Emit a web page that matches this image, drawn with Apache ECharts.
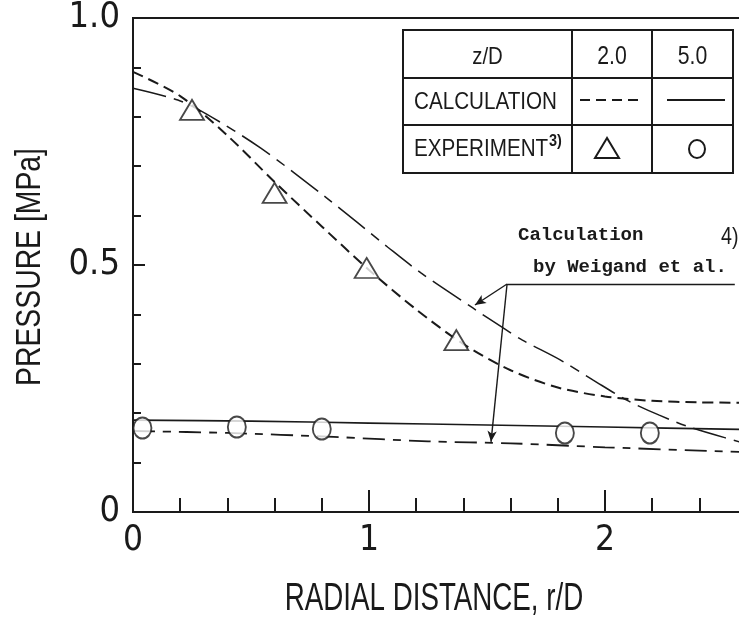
<!DOCTYPE html>
<html>
<head>
<meta charset="utf-8">
<script src="https://cdn.jsdelivr.net/npm/echarts@6/dist/echarts.min.js"></script>
<style>
  html, body { margin: 0; padding: 0; background: #fff; }
  #chart { width: 739px; height: 620px; }
</style>
</head>
<body>
<div id="chart"></div>
<script>
// Radial pressure distribution, r/D in x, pressure in MPa in y.

// Calculation, z/D = 2.0 (dashed)
const calc2X = [0, 0.2, 0.4, 0.6, 0.8, 1.0, 1.2, 1.4, 1.6, 1.8, 2.0, 2.2, 2.4, 2.6];
const calc2Y = [0.891, 0.842, 0.762, 0.668, 0.578, 0.490, 0.410, 0.340, 0.287, 0.252, 0.234, 0.225, 0.222, 0.221];

// Calculation, z/D = 5.0 (solid)
const calc5X = [0, 0.5, 1.0, 1.5, 2.0, 2.6];
const calc5Y = [0.186, 0.184, 0.180, 0.176, 0.172, 0.167];

// Calculation by Weigand et al., z/D = 2.0 (dash-dot)
const weig2X = [0, 0.19, 0.31, 0.54, 0.82, 1.08, 1.22, 1.44, 1.57, 1.65, 1.81, 1.95, 2.09, 2.23, 2.37, 2.57, 2.6];
const weig2Y = [0.858, 0.834, 0.806, 0.737, 0.636, 0.536, 0.484, 0.413, 0.372, 0.348, 0.308, 0.267, 0.227, 0.196, 0.170, 0.142, 0.138];

// Calculation by Weigand et al., z/D = 5.0 (dash-dot)
const weig5X = [0, 0.4, 0.85, 1.25, 1.6, 2.0, 2.6];
const weig5Y = [0.164, 0.160, 0.152, 0.143, 0.139, 0.131, 0.121];

// Experiment, z/D = 2.0 (triangles)
const exp2X = [0.25, 0.60, 0.99, 1.37];
const exp2Y = [0.814, 0.646, 0.494, 0.348];

// Experiment, z/D = 5.0 (circles)
const exp5X = [0.04, 0.44, 0.80, 1.83, 2.19];
const exp5Y = [0.170, 0.172, 0.168, 0.160, 0.160];

// Leader lines of the "Calculation by Weigand et al." note (data coordinates)
const noteAnchor = [1.585, 0.4615];
const noteLineEnd = [2.55, 0.4615];
const noteArrowTips = [[1.449, 0.419], [1.517, 0.142]];

// Axis tick labels
const xTickLabels = { 0: '0', 1: '1', 2: '2' };
const yTickLabels = { 0: '0', 0.5: '0.5', 1: '1.0' };

const pairs = (xs, ys) => xs.map((x, i) => [x, ys[i]]);

const INK = '#1a1a1a';
const SANS = '"Liberation Sans", Arial, sans-serif';
const COND = '"DejaVu Sans Condensed", "DejaVu Sans", sans-serif';
const MONO = '"Liberation Mono", "DejaVu Sans Mono", monospace';

const chart = echarts.init(document.getElementById('chart'), null, { renderer: 'canvas' });

// Plot area: 236 px per unit of r/D, 494 px per MPa; it runs past the right edge.
const GRID = { left: 133, top: 18, width: 708, height: 494 };

const option = {
  animation: false,
  backgroundColor: '#ffffff',
  grid: Object.assign({
    show: true, borderColor: INK, borderWidth: 2, backgroundColor: 'transparent',
    outerBoundsMode: 'none', containLabel: false
  }, GRID),
  xAxis: {
    type: 'value', min: 0, max: 3, interval: 1,
    axisLine: { lineStyle: { color: INK, width: 2 } },
    axisTick: { inside: true, length: 22, lineStyle: { color: INK, width: 2 } },
    minorTick: { show: true, splitNumber: 5, length: 14, lineStyle: { color: INK, width: 2 } },
    splitLine: { show: false },
    axisLabel: {
      margin: 11, fontFamily: COND, fontSize: 35, color: INK,
      formatter: v => (xTickLabels[v] !== undefined ? xTickLabels[v] : '')
    }
  },
  yAxis: {
    type: 'value', min: 0, max: 1, interval: 0.5,
    axisLine: { lineStyle: { color: INK, width: 2 } },
    axisTick: { inside: true, length: 12, lineStyle: { color: INK, width: 2 } },
    minorTick: { show: true, splitNumber: 5, length: 8, lineStyle: { color: INK, width: 2 } },
    splitLine: { show: false },
    axisLabel: {
      margin: 13, fontFamily: COND, fontSize: 36, color: INK,
      formatter: v => (yTickLabels[v] !== undefined ? yTickLabels[v] : '')
    }
  },
  series: [
    {
      name: 'Calculation z/D=2.0', type: 'line', data: pairs(calc2X, calc2Y),
      smooth: 0.3, showSymbol: false, clip: true,
      lineStyle: { color: INK, width: 2, type: [11, 6] }
    },
    {
      name: 'Calculation z/D=5.0', type: 'line', data: pairs(calc5X, calc5Y),
      smooth: 0.3, showSymbol: false, clip: true,
      lineStyle: { color: INK, width: 1.6, type: 'solid' }
    },
    {
      name: 'Weigand z/D=2.0', type: 'line', data: pairs(weig2X, weig2Y),
      smooth: 0.3, showSymbol: false, clip: true,
      lineStyle: { color: INK, width: 1.5, type: [34, 8, 10, 8] },
      markLine: {
        silent: true, animation: false,
        symbol: ['none', 'arrow'], symbolSize: [7, 11],
        label: { show: false },
        lineStyle: { color: INK, width: 1.4, type: 'solid' },
        data: [
          [{ coord: noteAnchor, symbol: 'none' }, { coord: noteLineEnd, symbol: 'none' }],
          [{ coord: noteAnchor }, { coord: noteArrowTips[0] }],
          [{ coord: noteAnchor }, { coord: noteArrowTips[1] }]
        ]
      }
    },
    {
      name: 'Weigand z/D=5.0', type: 'line', data: pairs(weig5X, weig5Y),
      smooth: 0.3, showSymbol: false, clip: true,
      lineStyle: { color: INK, width: 1.8, type: [22, 8, 8, 8] }
    },
    {
      name: 'Experiment z/D=2.0', type: 'scatter', data: pairs(exp2X, exp2Y),
      symbol: 'triangle', symbolSize: [24, 20], z: 5,
      itemStyle: { color: '#fff', borderColor: INK, borderWidth: 1.8 }
    },
    {
      name: 'Experiment z/D=5.0', type: 'scatter', data: pairs(exp5X, exp5Y),
      symbol: 'circle', symbolSize: [18, 21], z: 5,
      itemStyle: { color: '#fff', borderColor: INK, borderWidth: 2 }
    }
  ]
};

chart.setOption(option);

// Key table, axis titles (condensed lettering) and the note text.
const T = { l: 403, r: 733, t: 30, b: 173, c1: 572, c2: 652, r1: 78, r2: 125 };
const line = (x1, y1, x2, y2, w, dash) => ({
  type: 'line', shape: { x1, y1, x2, y2 },
  style: { stroke: INK, lineWidth: w, lineDash: dash || null }, z: 10
});
const text = (x, y, s, size, font, align, opts) => Object.assign({
  type: 'text', x, y,
  style: {
    text: s, fontSize: size, fontFamily: font, fill: INK,
    align: align || 'center', verticalAlign: 'middle',
    fontWeight: (opts && opts.weight) || 'normal'
  }, z: 10
}, opts && opts.scaleX ? { scaleX: opts.scaleX } : {},
   opts && opts.rotation ? { rotation: opts.rotation } : {});

chart.setOption({
  graphic: [
    { type: 'rect', shape: { x: T.l, y: T.t, width: T.r - T.l, height: T.b - T.t },
      style: { fill: '#fff', stroke: INK, lineWidth: 2 }, z: 9 },
    line(T.c1, T.t, T.c1, T.b, 2),
    line(T.c2, T.t, T.c2, T.b, 2),
    line(T.l, T.r1, T.r, T.r1, 2),
    line(T.l, T.r2, T.r, T.r2, 2),
    text((T.l + T.c1) / 2, 57, 'z/D', 24, SANS, 'center', { scaleX: 0.85 }),
    text((T.c1 + T.c2) / 2, 57, '2.0', 25, SANS, 'center', { scaleX: 0.85 }),
    text((T.c2 + T.r) / 2, 57, '5.0', 25, SANS, 'center', { scaleX: 0.85 }),
    text(414, 102, 'CALCULATION', 24, SANS, 'left', { scaleX: 0.86 }),
    text(414, 149, 'EXPERIMENT', 24, SANS, 'left', { scaleX: 0.86 }),
    text(549, 141, '3)', 17, SANS, 'left', { weight: 'bold', scaleX: 0.85 }),
    line(580, 100, 643, 100, 2, [10, 6]),
    line(667, 100, 725, 100, 2),
    { type: 'polygon', shape: { points: [[607, 138], [595, 158], [619, 158]] },
      style: { fill: '#fff', stroke: INK, lineWidth: 2 }, z: 10 },
    { type: 'ellipse', shape: { cx: 697, cy: 149, rx: 8, ry: 9 },
      style: { fill: '#fff', stroke: INK, lineWidth: 2 }, z: 10 },

    text(434, 600, 'RADIAL DISTANCE, r/D', 38, SANS, 'center', { scaleX: 0.73 }),
    text(30, 267, 'PRESSURE [MPa]', 35, SANS, 'center', { scaleX: 0.81, rotation: Math.PI / 2 }),

    text(518, 235, 'Calculation', 19, MONO, 'left', { weight: 'bold' }),
    text(533, 267, 'by Weigand et al.', 19, MONO, 'left', { weight: 'bold' }),
    text(721, 237, '4)', 24, SANS, 'left', { scaleX: 0.82 })
  ]
});
</script>
</body>
</html>
